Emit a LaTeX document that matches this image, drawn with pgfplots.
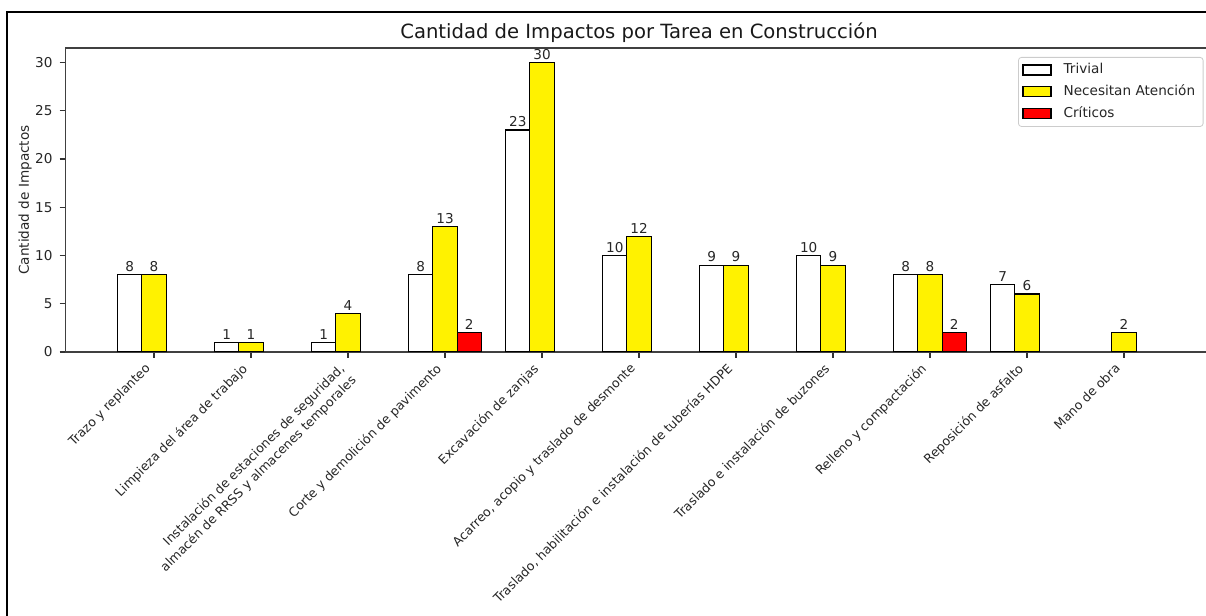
\documentclass[border=0pt]{standalone}
\usepackage{pgfplots}
\pgfplotsset{compat=1.18}
\usepackage{fontspec}
\setmainfont{DejaVu Sans}
\newcommand{\lblfont}{\fontsize{6.8}{8}\selectfont}
\newcommand{\xlblfont}{\fontsize{6.3}{8.2}\selectfont}
\begin{document}
\begin{tikzpicture}
\useasboundingbox (0,0) rectangle (603pt,308pt);
\clip (0,0) rectangle (603pt,308pt);
% frame of the screenshot
\draw[line width=1pt] (3.5pt,0) -- (3.5pt,302pt) -- (603pt,302pt);
\begin{axis}[
  at={(32.75pt,132pt)}, anchor=south west,
  scale only axis, width=573.5pt, height=152pt,
  xmin=-0.9125, xmax=10.9125, ymin=0, ymax=31.5,
  ybar=0pt, bar width=0.25,
  axis line style={black!75, line width=0.6pt},
  tick pos=left, tick align=outside,
  major tick length=3pt,
  tick style={black!80, line width=0.6pt},
  /pgf/number format/assume math mode=true,
  tick label style={font=\lblfont, text=black!85},
  ytick={0,5,...,30},
  xtick={0,...,10},
  xticklabels={Trazo y replanteo, Limpieza del área de trabajo,
    {Instalación de estaciones de seguridad,\\almacén de RRSS y almacenes temporales},
    Corte y demolición de pavimento, Excavación de zanjas,
    {Acarreo, acopio y traslado de desmonte},
    {Traslado, habilitación e instalación de tuberías HDPE},
    Traslado e instalación de buzones, Relleno y compactación,
    Reposición de asfalto, Mano de obra},
  xticklabel style={xshift=-5pt, yshift=-2pt, rotate=45, anchor=north east,
    inner sep=0pt, align=right, font=\xlblfont},
  title={Cantidad de Impactos por Tarea en Construcción},
  title style={font=\fontsize{9.8}{11}\selectfont, text=black!90,
    at={(0.5,1)}, anchor=base, yshift=-1.5pt},
  ylabel={Cantidad de Impactos},
  every axis y label/.style={at={(axis description cs:-0.0353,0.5)},
    rotate=90, anchor=center, font=\lblfont, text=black!85},
  nodes near coords,
  every node near coord/.append style={font=\lblfont, text=black!85, inner sep=1.2pt},
  legend cell align=left,
  legend style={at={(rel axis cs:1,1)}, anchor=north east,
    xshift=-4.5pt, yshift=-4.5pt, draw=black!20, rounded corners=1.5pt,
    font=\lblfont, text=black!85, row sep=0pt, inner xsep=2pt, inner ysep=1pt},
  mybar/.style={draw=black, line width=0.6pt,
    legend image code/.code={\draw[##1, sharp corners] (0pt,-2.5pt) rectangle (14pt,2.5pt);
      \path (18pt,0pt);}},
]
\addplot[mybar, fill=white] coordinates
  {(0,8) (1,1) (2,1) (3,8) (4,23) (5,10) (6,9) (7,10) (8,8) (9,7)};
\addlegendentry{Trivial}
\addplot[mybar, fill=yellow] coordinates
  {(0,8) (1,1) (2,4) (3,13) (4,30) (5,12) (6,9) (7,9) (8,8) (9,6) (10,2)};
\addlegendentry{Necesitan Atención}
\addplot[mybar, fill=red] coordinates
  {(3,2) (8,2)};
\addlegendentry{Críticos}
\end{axis}
\end{tikzpicture}
\end{document}
